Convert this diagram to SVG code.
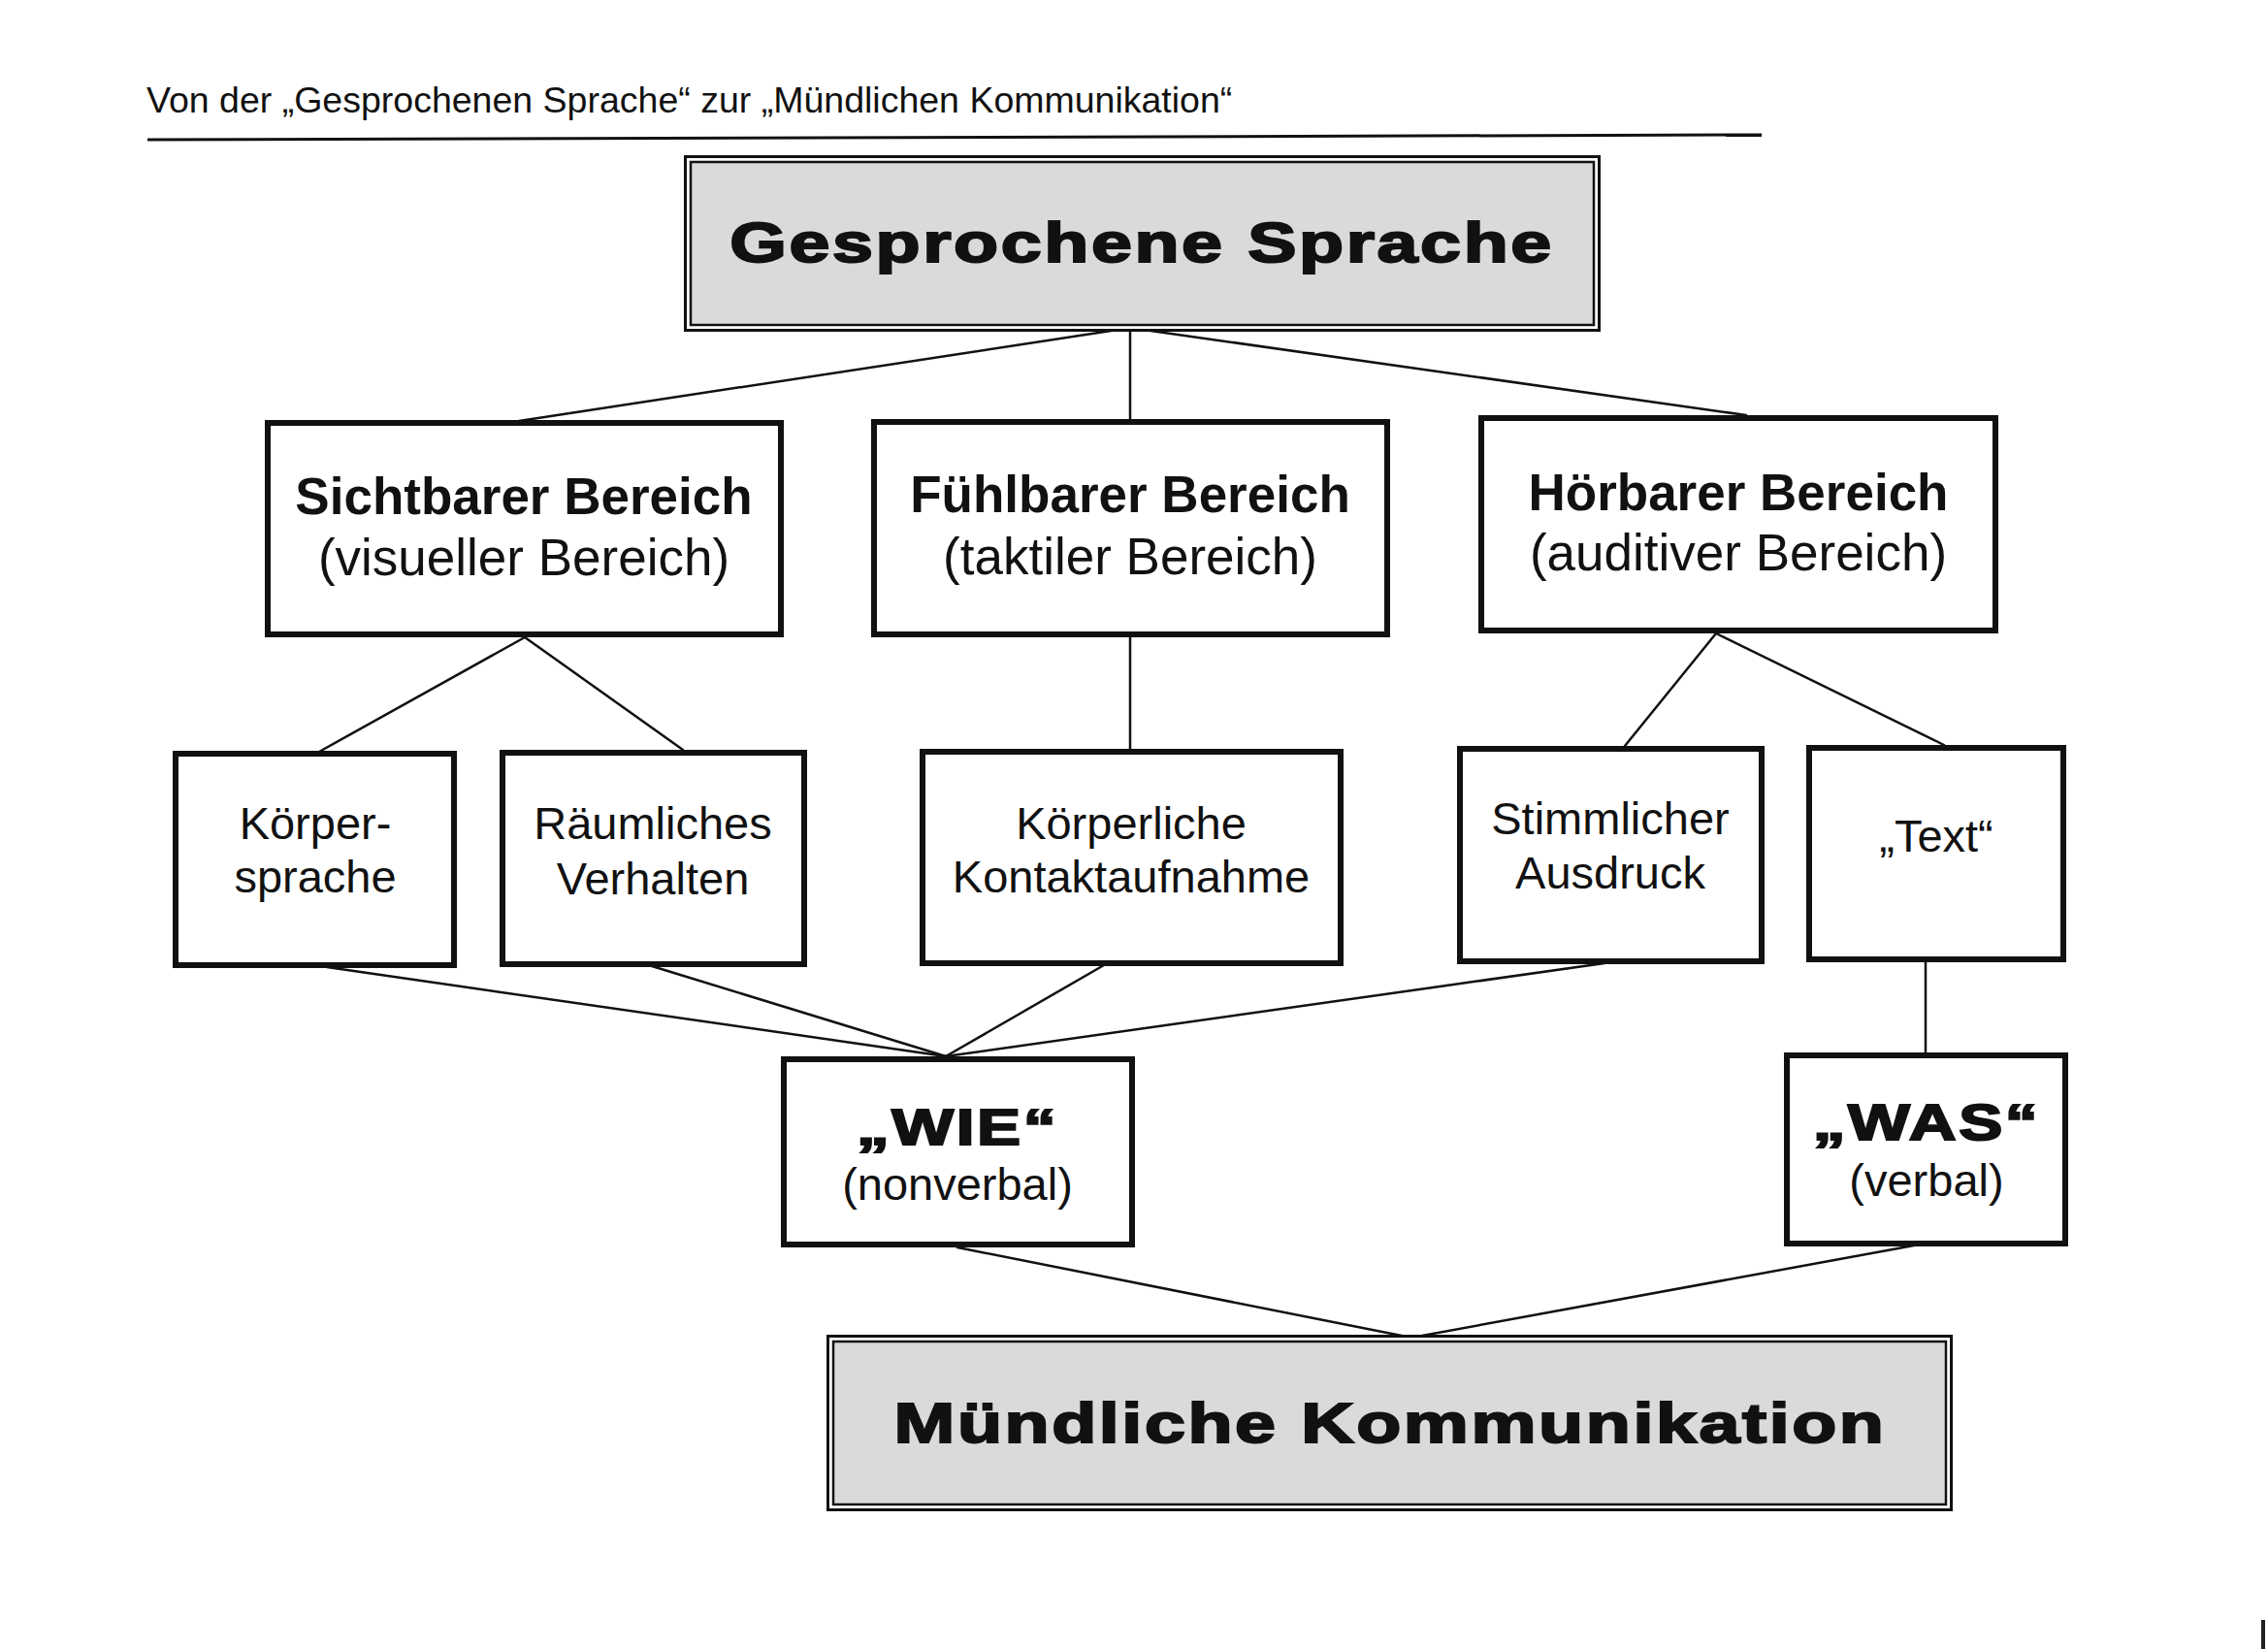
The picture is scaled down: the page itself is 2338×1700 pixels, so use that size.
<svg xmlns="http://www.w3.org/2000/svg" width="2338" height="1700" viewBox="0 0 2338 1700">
<style>
.bg{fill:#ffffff}
.box{fill:#ffffff;stroke:#111111;stroke-width:6}
.outer{fill:#ffffff;stroke:#111111;stroke-width:3}
.inner{fill:#dadada;stroke:#111111;stroke-width:2.5}
.conn{stroke:#111111;stroke-width:2.5;fill:none;stroke-linecap:round}
.t{font-family:"Liberation Sans",Arial,sans-serif;fill:#111111;text-anchor:middle}
.hd{font-family:"Liberation Sans",Arial,sans-serif;fill:#111111;font-size:37.5px}
.b52{font-size:53px;font-weight:bold}
.r52{font-size:53px}
.r46{font-size:47px}
.r47{font-size:47px}
.wide{font-weight:bold;letter-spacing:2px;stroke:#111111;stroke-width:2}
.w54{font-size:58px}
.w49{font-size:52px}
</style>
<rect class="bg" x="0" y="0" width="2338" height="1700"/>

<g id="header">
<text class="hd" x="151" y="116">Von der „Gesprochenen Sprache“ zur „Mündlichen Kommunikation“</text>
<line x1="152" y1="144" x2="1816" y2="139" stroke="#111111" stroke-width="3"/>
</g>

<g id="connectors">
<line class="conn" x1="1165" y1="338" x2="535" y2="434"/>
<line class="conn" x1="1165" y1="338" x2="1165" y2="432"/>
<line class="conn" x1="1165" y1="338" x2="1800" y2="428"/>
<line class="conn" x1="541" y1="657" x2="329" y2="775"/>
<line class="conn" x1="541" y1="657" x2="704" y2="773"/>
<line class="conn" x1="1165" y1="657" x2="1165" y2="772"/>
<line class="conn" x1="1769" y1="653" x2="1675" y2="769"/>
<line class="conn" x1="1769" y1="653" x2="2004" y2="768"/>
<line class="conn" x1="1985" y1="992" x2="1985" y2="1085"/>
<line class="conn" x1="337" y1="997" x2="975" y2="1089"/>
<line class="conn" x1="672" y1="996" x2="975" y2="1089"/>
<line class="conn" x1="1138" y1="995" x2="975" y2="1089"/>
<line class="conn" x1="1654" y1="993" x2="975" y2="1089"/>
<line class="conn" x1="987" y1="1286" x2="1455" y2="1379"/>
<line class="conn" x1="1973" y1="1284" x2="1455" y2="1379"/>
</g>

<g id="gesprochene-sprache">
<rect class="outer" x="706.5" y="161.5" width="942" height="179"/>
<rect class="inner" x="712" y="167" width="931" height="168"/>
<text class="t wide w54" transform="translate(1177 270) scale(1.3 1)" x="0" y="0">Gesprochene Sprache</text>
</g>

<g id="sichtbarer-bereich">
<rect class="box" x="276" y="436" width="529" height="218"/>
<text class="t b52" x="540" y="530">Sichtbarer Bereich</text>
<text class="t r52" x="540" y="593">(visueller Bereich)</text>
</g>

<g id="fuehlbarer-bereich">
<rect class="box" x="901" y="435" width="529" height="219"/>
<text class="t b52" x="1165" y="528">Fühlbarer Bereich</text>
<text class="t r52" x="1165" y="592">(taktiler Bereich)</text>
</g>

<g id="hoerbarer-bereich">
<rect class="box" x="1527" y="431" width="530" height="219"/>
<text class="t b52" x="1792" y="526">Hörbarer Bereich</text>
<text class="t r52" x="1792" y="588">(auditiver Bereich)</text>
</g>

<g id="koerpersprache">
<rect class="box" x="181" y="777" width="287" height="218"/>
<text class="t r46" x="325" y="865">Körper-</text>
<text class="t r46" x="325" y="920">sprache</text>
</g>

<g id="raeumliches-verhalten">
<rect class="box" x="518" y="776" width="311" height="218"/>
<text class="t r46" x="673" y="865">Räumliches</text>
<text class="t r46" x="673" y="922">Verhalten</text>
</g>

<g id="koerperliche-kontaktaufnahme">
<rect class="box" x="951" y="775" width="431" height="218"/>
<text class="t r46" x="1166" y="865">Körperliche</text>
<text class="t r46" x="1166" y="920">Kontaktaufnahme</text>
</g>

<g id="stimmlicher-ausdruck">
<rect class="box" x="1505" y="772" width="311" height="219"/>
<text class="t r46" x="1660" y="860">Stimmlicher</text>
<text class="t r46" x="1660" y="916">Ausdruck</text>
</g>

<g id="text">
<rect class="box" x="1865" y="771" width="262" height="218"/>
<text class="t r46" x="1996" y="878">„Text“</text>
</g>

<g id="wie">
<rect class="box" x="808" y="1092" width="359" height="191"/>
<text class="t wide w49" transform="translate(987 1180) scale(1.3 1)" x="0" y="0">„WIE“</text>
<text class="t r47" x="987" y="1237">(nonverbal)</text>
</g>

<g id="was">
<rect class="box" x="1842" y="1088" width="287" height="194"/>
<text class="t wide w49" transform="translate(1986 1175) scale(1.3 1)" x="0" y="0">„WAS“</text>
<text class="t r47" x="1986" y="1233">(verbal)</text>
</g>

<g id="muendliche-kommunikation">
<rect class="outer" x="853.5" y="1377.5" width="1158" height="179"/>
<rect class="inner" x="859" y="1383" width="1147" height="168"/>
<text class="t wide w54" transform="translate(1433 1487) scale(1.3 1)" x="0" y="0">Mündliche Kommunikation</text>
</g>

<rect x="2331" y="1670" width="4" height="30" fill="#222222"/>
</svg>
